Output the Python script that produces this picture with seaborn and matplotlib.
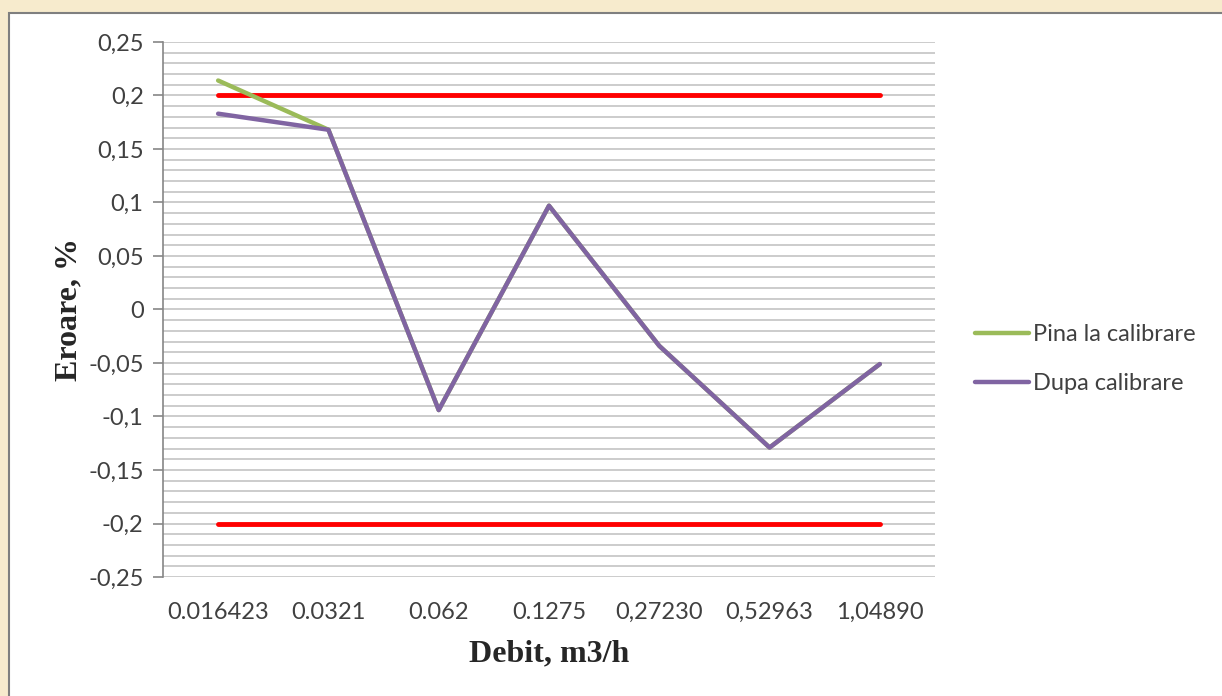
import numpy as np
import pandas as pd
import matplotlib
matplotlib.use("Agg")
import matplotlib.pyplot as plt
from matplotlib.patches import Rectangle
from matplotlib.ticker import MultipleLocator, FixedLocator, FixedFormatter
import seaborn as sns

# Date
debit = ["0.016423", "0.0321", "0.062", "0.1275", "0,27230", "0,52963", "1,04890"]
pina_la_calibrare = [0.214, 0.168, -0.094, 0.097, -0.034, -0.129, -0.051]
dupa_calibrare = [0.183, 0.168, -0.094, 0.097, -0.034, -0.129, -0.051]
limita_sup = [0.2, 0.2, 0.2, 0.2, 0.2, 0.2, 0.2]
limita_inf = [-0.2, -0.2, -0.2, -0.2, -0.2, -0.2, -0.2]

y_ticks = [-0.25, -0.2, -0.15, -0.1, -0.05, 0, 0.05, 0.1, 0.15, 0.2, 0.25]
y_labels = ["-0,25", "-0,2", "-0,15", "-0,1", "-0,05", "0", "0,05", "0,1", "0,15", "0,2", "0,25"]

df = pd.DataFrame({
    "Debit": debit * 2,
    "Eroare": pina_la_calibrare + dupa_calibrare,
    "Serie": ["Pina la calibrare"] * len(debit) + ["Dupa calibrare"] * len(debit),
})

sns.set_style("white")
plt.rcParams["font.family"] = ["Lato", "DejaVu Sans"]

fig = plt.figure(figsize=(12.22, 6.96), dpi=100)
fig.patch.set_facecolor("#f7ebcd")

# panoul alb cu margine gri
fig.patches.append(Rectangle((9 / 1222, -0.01), 1.0, 1 - 13 / 696 + 0.01,
                             transform=fig.transFigure, facecolor="white",
                             edgecolor="#7f7f7f", linewidth=1.5, zorder=-5))

ax = fig.add_axes([163 / 1222, 1 - 577 / 696, 772 / 1222, 535 / 696])
ax.set_facecolor("none")

# limitele de eroare
ax.plot(debit, limita_sup, color="#ff0000", linewidth=3.5, solid_capstyle="round", zorder=3)
ax.plot(debit, limita_inf, color="#ff0000", linewidth=3.5, solid_capstyle="round", zorder=3)

sns.lineplot(data=df, x="Debit", y="Eroare", hue="Serie", sort=False,
             palette={"Pina la calibrare": "#9bbb59", "Dupa calibrare": "#8064a2"},
             linewidth=3.2, ax=ax, zorder=4)

ax.set_xlim(-0.5, len(debit) - 0.5)
ax.set_ylim(-0.25, 0.25)
ax.yaxis.set_major_locator(FixedLocator(y_ticks))
ax.yaxis.set_major_formatter(FixedFormatter(y_labels))
ax.yaxis.set_minor_locator(MultipleLocator(0.01))
ax.grid(True, which="both", axis="y", color="#bfbfbf", linewidth=1.1)
ax.grid(False, axis="x")
ax.set_axisbelow(True)

for s in ["top", "right", "bottom"]:
    ax.spines[s].set_visible(False)
ax.spines["left"].set_color("#868686")
ax.spines["left"].set_linewidth(1.2)

ax.tick_params(axis="y", which="major", direction="out", length=7, width=1.2,
               color="#868686", labelsize=17, labelcolor="#404040", pad=7, left=True)
ax.tick_params(axis="y", which="minor", length=0)
ax.tick_params(axis="x", length=0, labelsize=17, labelcolor="#404040", pad=18)

ax.set_xlabel("Debit, m3/h", family="Liberation Serif", fontweight="bold", fontsize=23, labelpad=12)
ax.set_ylabel("Eroare, %", family="Liberation Serif", fontweight="bold", fontsize=23, labelpad=3)

handles, labels = ax.get_legend_handles_labels()
ax.get_legend().remove()
fig.legend(handles, labels, loc="upper left", bbox_to_anchor=(975 / 1222, 1 - 324 / 696),
           frameon=False, fontsize=17, handlelength=2.3, handletextpad=0.15,
           labelspacing=1.2, borderpad=0, borderaxespad=0, labelcolor="#404040")

fig.savefig("out.png", dpi=100, facecolor=fig.get_facecolor())
